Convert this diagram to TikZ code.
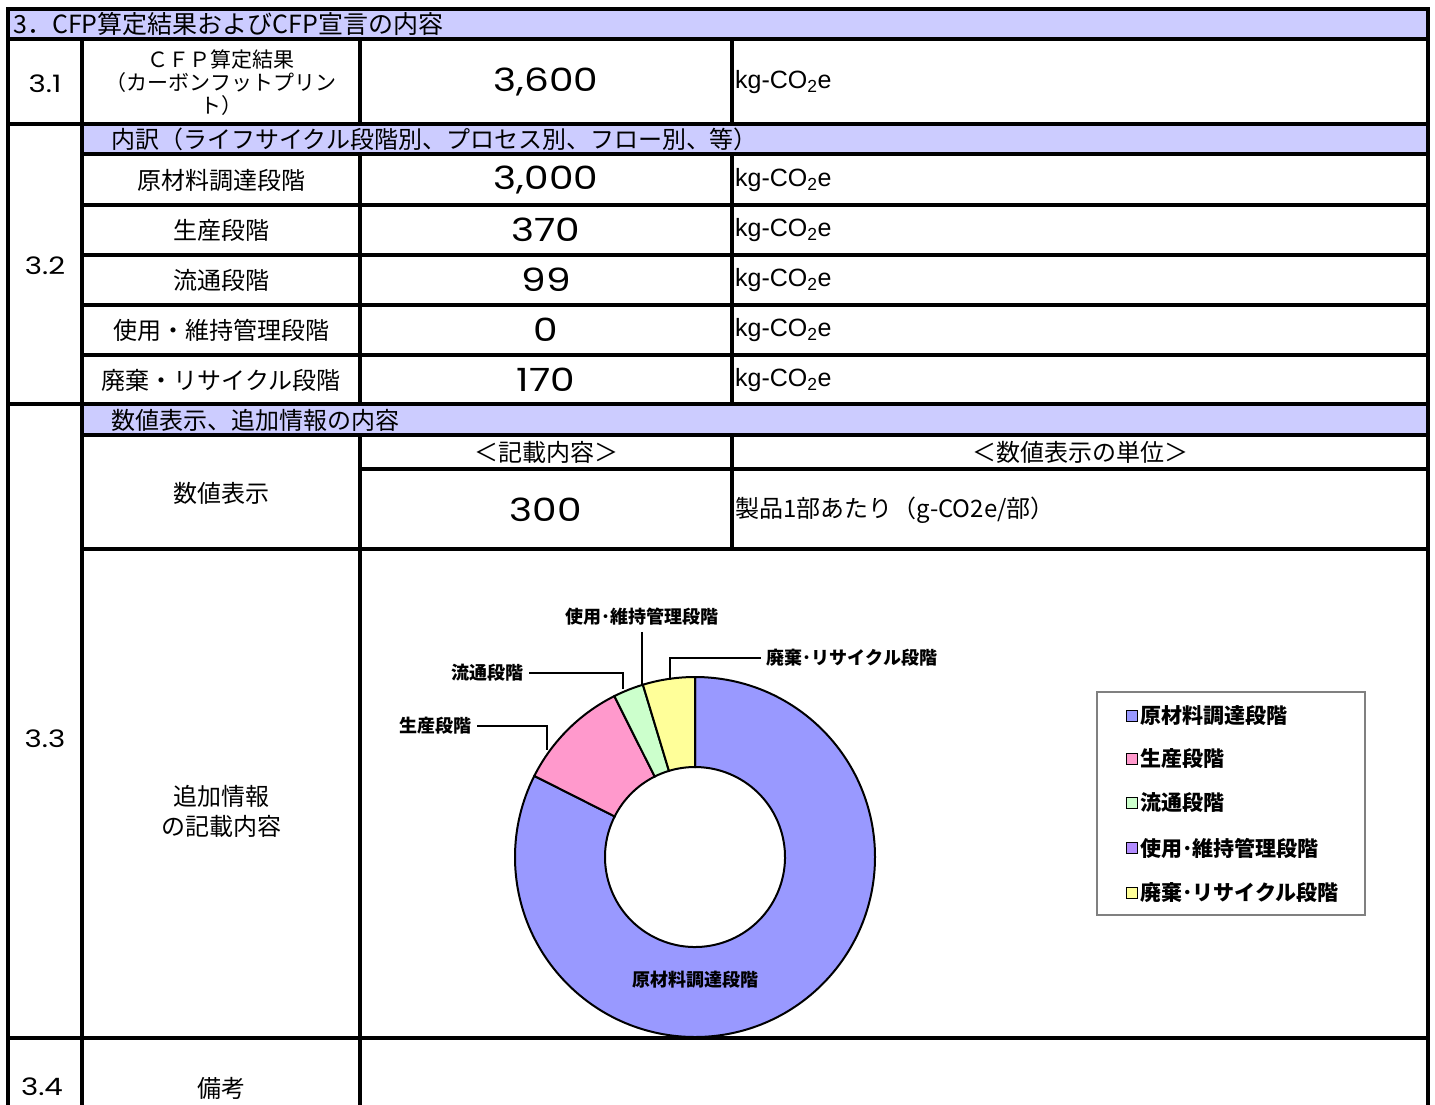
\documentclass[tikz,border=0pt]{standalone}
\usepackage{fontspec}
\setmainfont{Noto Sans CJK JP}
\newfontfamily\numfont{Poppins}[FakeStretch=1.22]
\newfontfamily\latinfont{Liberation Sans}
\usetikzlibrary{positioning}
\definecolor{bandcol}{RGB}{204,204,255}
\definecolor{sliceA}{RGB}{153,153,255}
\definecolor{sliceB}{RGB}{255,153,204}
\definecolor{sliceC}{RGB}{204,255,204}
\definecolor{sliceD}{RGB}{178,140,255}
\definecolor{sliceE}{RGB}{255,255,153}
\newcommand{\kgco}{{\latinfont kg-CO\textsubscript{2}e}}

\begin{document}
\begin{tikzpicture}[x=1pt,y=-1pt,
  grid/.style={line width=4pt,line cap=rect},
  band/.style={fill=bandcol},
  txt/.style={font=\fontsize{24}{28}\selectfont,inner sep=1pt},
  secno/.style={font=\numfont\fontsize{24}{26}\selectfont,inner sep=1pt},
  num/.style={font=\numfont\fontsize{32}{36}\selectfont,inner sep=1pt},
  unit/.style={anchor=west,font=\fontsize{25}{28}\selectfont,inner sep=1pt},
  slice/.style={draw=black,line width=2pt},
  lead/.style={line width=1.5pt},
  clabel/.style={font=\bfseries\fontsize{18}{20}\selectfont,inner sep=6pt}]
\useasboundingbox (0,0) rectangle (1435,1104);
% bands
\fill[band] (8,9) rectangle (1428,39);
\fill[band] (82,124) rectangle (1428,154);
\fill[band] (82,404) rectangle (1428,435);
% grid
\draw[grid] (8,1110) -- (8,9) -- (1428,9) -- (1428,1110);
\foreach \y in {39,124,404,1038} \draw[grid] (8,\y) -- (1428,\y);
\foreach \y in {154,205,255,305,355,435,549} \draw[grid] (82,\y) -- (1428,\y);
\draw[grid] (360,469) -- (1428,469);
\draw[grid] (82,39) -- (82,1110);
\draw[grid] (360,39) -- (360,124) (360,154) -- (360,404) (360,435) -- (360,1110);
\draw[grid] (732,39) -- (732,124) (732,154) -- (732,404) (732,435) -- (732,549);

\node[txt,anchor=west,font=\fontsize{25}{28}\selectfont] (head) at (12,24) {3．CFP算定結果およびCFP宣言の内容};
\node[secno] (no31) at (45,84) {3.1};
\node[txt,align=center,font=\fontsize{21}{23}\selectfont] (cfp) at (221,83) {ＣＦＰ算定結果\\（カーボンフットプリン\\ト）};
\node[num] (total) at (546,82) {3,600};
\node[unit] (totunit) at (734,82) {\kgco};
\node[txt,anchor=west] (breakdown) at (110,139) {内訳（ライフサイクル段階別、プロセス別、フロー別、等）};
\node[secno] (no32) at (45,266) {3.2};
\foreach \y/\t/\v [count=\i] in {180/原材料調達段階/{3,000},230/生産段階/370,280/流通段階/99,330/使用・維持管理段階/0,380/廃棄・リサイクル段階/170}{
  \node[txt] (stage\i) at (221,\y) {\t};
  \node[num] (val\i) at (546,\y) {\v};
  \node[unit] (unit\i) at (734,\y) {\kgco};
}
\node[txt,anchor=west] (dispband) at (110,420) {数値表示、追加情報の内容};
\node[txt] (content) at (546,452) {＜記載内容＞};
\node[txt] (unithead) at (1080,452) {＜数値表示の単位＞};
\node[txt] (disp) at (221,493) {数値表示};
\node[num] (dispval) at (546,510) {300};
\node[txt,anchor=west] (dispunit) at (734,510) {製品1部あたり（g-CO2e/部）};
\node[secno] (no33) at (45,739) {3.3};
\node[txt,align=center,font=\fontsize{24}{30}\selectfont] (extra) at (221,811) {追加情報\\の記載内容};
\node[secno] (no34) at (42,1087) {3.4};
\node[txt] (note) at (221,1088) {備考};

% donut
\begin{scope}[shift={(695,857)},x=1pt,y=1pt]
\foreach \a/\b/\c in {90/-206.78/sliceA,-206.78/-243.38/sliceB,-243.38/-253.17/sliceC,-253.17/-270/sliceE}
  \draw[slice,fill=\c] (\a:180) arc[start angle=\a,end angle=\b,radius=180] -- (\b:90) arc[start angle=\b,end angle=\a,radius=90] -- cycle;
\end{scope}
\coordinate (arcB) at (547,750);
\coordinate (arcC) at (623,689);
\coordinate (arcD) at (642,686);
\coordinate (arcE) at (670,680);
\node[clabel] (lblA) at (695,980) {原材料調達段階};
\node[clabel] (lblB) at (435,726) {生産段階};
\node[clabel] (lblC) at (487,673) {流通段階};
\node[clabel] (lblD) at (642,617) {使用･維持管理段階};
\node[clabel] (lblE) at (852,658) {廃棄･リサイクル段階};
\draw[lead] (lblB.east) -| (arcB);
\draw[lead] (lblC.east) -| (arcC);
\draw[lead] (lblD.south) -- (arcD);
\draw[lead] (lblE.west) -| (arcE);

% legend
\draw[gray,line width=1.5pt] (1097,692) rectangle (1365,915);
\foreach \y/\c/\t [count=\i] in {716/sliceA/原材料調達段階,759/sliceB/生産段階,803/sliceC/流通段階,848/sliceD/使用･維持管理段階,893/sliceE/廃棄･リサイクル段階}{
  \node[draw,line width=1.5pt,fill=\c,minimum size=11pt,inner sep=0pt] (key\i) at (1132,\y) {};
  \node[right=1pt of key\i,font=\bfseries\fontsize{21}{24}\selectfont,inner sep=1pt] (entry\i) {\t};
}
\end{tikzpicture}
\end{document}
